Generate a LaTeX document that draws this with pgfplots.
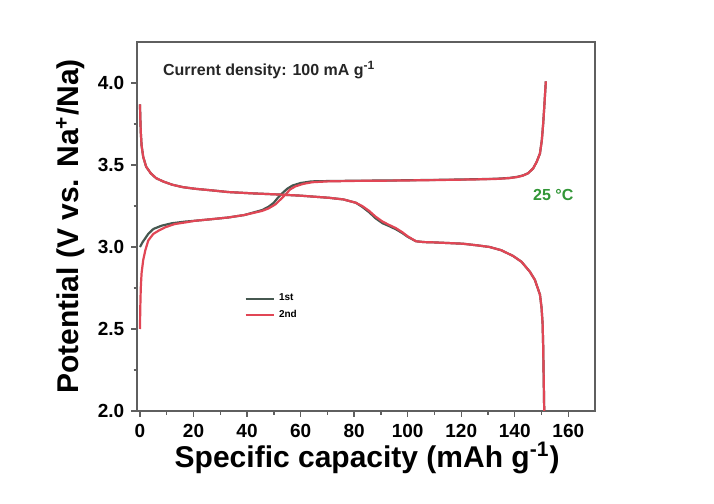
\documentclass[border=0pt]{standalone}
\usepackage{pgfplots}
\pgfplotsset{compat=1.18}
\usepackage{fontspec}
\setmainfont{Liberation Sans}
\definecolor{cred}{RGB}{225,70,85}
\definecolor{cdark}{RGB}{70,88,80}
\definecolor{cgreen}{RGB}{50,150,55}
\definecolor{caxis}{RGB}{95,95,95}
\begin{document}
\begin{tikzpicture}
\path[use as bounding box] (-68.65pt,-46.5pt) rectangle (288.35pt,205.5pt);
\begin{axis}[
  scale only axis,
  width=228.9pt, height=184.5pt,
  xmin=-1, xmax=170, ymin=2.0, ymax=4.25,
  xtick={0,20,...,160}, ytick={2.0,2.5,...,4.0},
  minor x tick num=1, minor y tick num=1,
  tick pos=left, tick align=outside,
  major tick length=3pt, minor tick length=1.8pt,
  axis line style={caxis, line width=0.8pt},
  every tick/.style={caxis, line width=0.7pt},
  yticklabel style={/pgf/number format/.cd, fixed, fixed zerofill, precision=1},
  /pgf/number format/assume math mode=true,
  ticklabel style={font=\fontsize{9.5}{10}\selectfont\bfseries},
  xlabel={Specific capacity (mAh g\textsuperscript{-1})},
  ylabel={Potential (V vs. Na\textsuperscript{+}/Na)},
  every axis x label/.style={at={(axis description cs:0.502,-0.127)}, anchor=center, font=\fontsize{15}{16}\selectfont\bfseries},
  every axis y label/.style={at={(axis description cs:-0.146,0.5)}, rotate=90, anchor=center, font=\fontsize{15}{16}\selectfont\bfseries},
  legend style={draw=none, fill=none, font=\fontsize{5}{6}\selectfont\bfseries,
    at={(axis description cs:0.22,0.34)}, anchor=north west, row sep=-1pt},
  legend cell align=left,
  legend image code/.code={\draw[#1] (0cm,0cm) -- (0.5cm,0cm);},
]
% 1st charge
\addplot[cdark, line width=1.1pt] coordinates {
(0,3.00)(1,3.03)(3.1,3.08)(5,3.11)(8.1,3.13)(12,3.145)(17,3.155)(20.6,3.16)(27,3.17)(33,3.18)(39,3.195)(45.6,3.225)(48,3.245)(50,3.27)(51.5,3.30)(53.3,3.33)(55,3.355)(57,3.375)(60,3.39)(64,3.40)(70,3.402)(80,3.404)(95.6,3.406)(110,3.409)(125,3.413)(133,3.416)(138,3.421)(141,3.428)(143,3.436)(145,3.45)(146.9,3.48)(148.2,3.52)(149.4,3.57)(150.1,3.65)(150.6,3.75)(151,3.85)(151.3,3.93)(151.6,4.01)
};
\addlegendentry{1st}
% 2nd charge
\addplot[cred, line width=1.1pt] coordinates {
(0,2.50)(0.1,2.62)(0.3,2.75)(0.6,2.84)(1.2,2.92)(2,2.98)(3.1,3.04)(5,3.08)(7,3.10)(9.4,3.12)(13,3.14)(17,3.15)(20.6,3.16)(27,3.17)(33,3.18)(39,3.195)(45.6,3.22)(48,3.235)(50.6,3.26)(52.5,3.29)(54.4,3.32)(56,3.35)(58.1,3.37)(61,3.385)(64.4,3.395)(70,3.40)(80,3.403)(95.6,3.405)(110,3.408)(125,3.412)(133,3.415)(138,3.42)(141,3.427)(143,3.435)(145,3.45)(146.9,3.48)(148.2,3.52)(149.4,3.57)(150.1,3.65)(150.6,3.75)(151,3.85)(151.3,3.93)(151.6,4.01)
};
\addlegendentry{2nd}
% 1st discharge
\addplot[cdark, line width=1.1pt, forget plot] coordinates {
(0,3.87)(0.1,3.80)(0.3,3.70)(0.6,3.62)(1.2,3.55)(2.3,3.49)(4,3.45)(6,3.42)(8.6,3.40)(12,3.38)(16,3.365)(20.6,3.355)(27,3.345)(33,3.335)(42,3.327)(51.9,3.32)(60,3.313)(70.6,3.30)(76,3.29)(80.6,3.27)(83,3.245)(85.6,3.212)(88,3.175)(90.6,3.145)(93,3.128)(95.6,3.108)(98,3.085)(100,3.062)(103.1,3.035)(106,3.03)(110,3.028)(120.6,3.02)(126,3.01)(130.6,3.0)(135,2.98)(139.4,2.945)(142.5,2.91)(145.6,2.85)(147.5,2.80)(149.4,2.71)(150,2.63)(150.4,2.53)(150.6,2.40)(150.8,2.20)(151,2.0)
};
% 2nd discharge
\addplot[cred, line width=1.1pt, forget plot] coordinates {
(0,3.87)(0.1,3.80)(0.3,3.70)(0.6,3.62)(1.2,3.55)(2.3,3.49)(4,3.45)(6,3.42)(8.6,3.40)(12,3.38)(16,3.365)(20.6,3.355)(27,3.345)(33,3.335)(42,3.327)(51.9,3.32)(60,3.313)(70.6,3.30)(76,3.29)(80.6,3.27)(83,3.25)(85.6,3.22)(88,3.185)(90.6,3.155)(93,3.135)(95.6,3.115)(98,3.09)(100,3.065)(103.1,3.035)(106,3.03)(110,3.028)(120.6,3.02)(126,3.01)(130.6,3.0)(135,2.98)(139.4,2.945)(142.5,2.91)(145.6,2.85)(147.5,2.80)(149.4,2.71)(150,2.63)(150.4,2.53)(150.6,2.40)(150.8,2.20)(151,2.0)
};
\node[anchor=west, font=\fontsize{8}{9}\selectfont\bfseries, text=black!85] at (axis cs:6,4.08) {Current density: 100 mA g\textsuperscript{-1}};
\node[anchor=center, font=\fontsize{8}{9}\selectfont\bfseries, text=cgreen] at (axis cs:154.4,3.317) {25 °C};
\end{axis}
\end{tikzpicture}
\end{document}
